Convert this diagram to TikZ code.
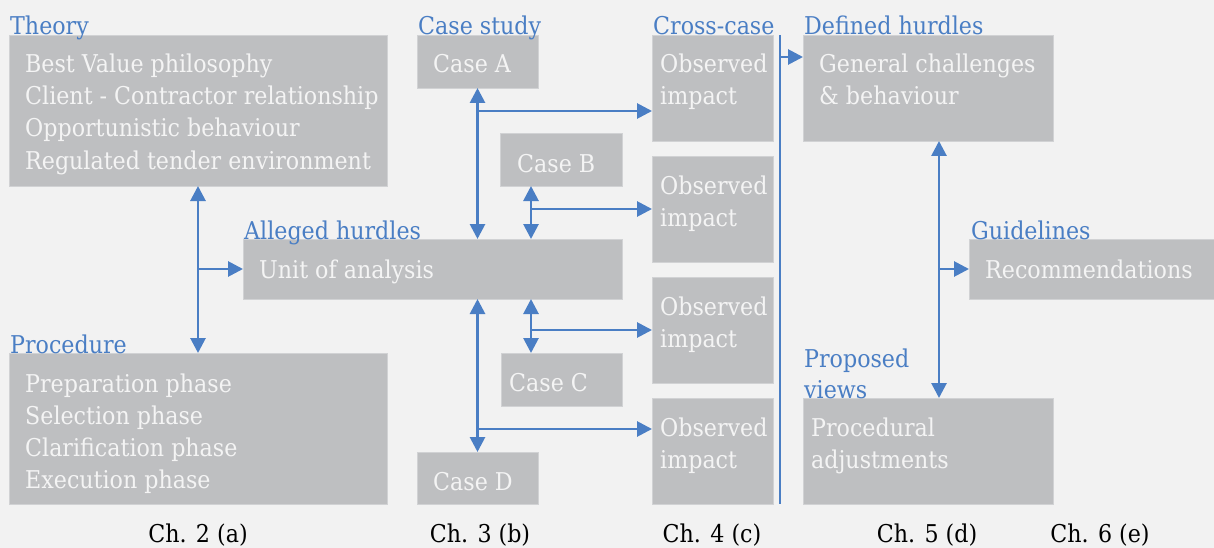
\documentclass[tikz,border=0pt]{standalone}
\usepackage{fontspec}
\setmainfont{DejaVu Serif}[FakeStretch=0.905]
\usetikzlibrary{arrows.meta}
\definecolor{bgc}{HTML}{F2F2F2}
\definecolor{boxc}{HTML}{BEBFC1}
\definecolor{bluec}{HTML}{4A7EC4}
\definecolor{boxtextc}{HTML}{F4F4F4}
\newcommand\diagfont{\fontsize{24.5}{28}\selectfont}
\begin{document}
\begin{tikzpicture}[x=1pt,y=-1pt,
  box/.style={fill=boxc, draw=boxc!70!white, line width=0.8pt, anchor=north west,
    inner sep=0pt, outer sep=0pt},
  intext/.style={text=boxtextc, anchor=base west, inner sep=0pt, font=\diagfont},
  title/.style={text=bluec, anchor=base west, inner sep=0pt, font=\diagfont},
  chap/.style={text=black, anchor=base, inner sep=0pt, font=\diagfont},
  conn/.style={draw=bluec, line width=2.8pt, -{Triangle[length=15pt,width=15pt]}},
  dconn/.style={draw=bluec, line width=2.8pt, {Triangle[length=15pt,width=15pt]}-{Triangle[length=15pt,width=15pt]}},
  plain/.style={draw=bluec, line width=2.8pt}]

% canvas
\fill[bgc] (0,0) rectangle (1214,548);
\useasboundingbox (0,0) rectangle (1214,548);

% boxes
\node[box, minimum width=378pt, minimum height=151pt] (theory) at (9,35) {};
\node[box, minimum width=378pt, minimum height=151pt] (proc) at (9,353) {};
\node[box, minimum width=379pt, minimum height=60pt] (unit) at (243,239) {};
\node[box, minimum width=121pt, minimum height=53pt] (caseA) at (417,35) {};
\node[box, minimum width=122pt, minimum height=53pt] (caseB) at (500,133) {};
\node[box, minimum width=121pt, minimum height=53pt] (caseC) at (501,353) {};
\node[box, minimum width=121pt, minimum height=52pt] (caseD) at (417,452) {};
\node[box, minimum width=121pt, minimum height=106pt] (obs1) at (652,35) {};
\node[box, minimum width=121pt, minimum height=106pt] (obs2) at (652,156) {};
\node[box, minimum width=121pt, minimum height=106pt] (obs3) at (652,277) {};
\node[box, minimum width=121pt, minimum height=106pt] (obs4) at (652,398) {};
\node[box, minimum width=250pt, minimum height=106pt] (defined) at (803,35) {};
\node[box, minimum width=246pt, minimum height=60pt] (recom) at (969,239) {};
\node[box, minimum width=250pt, minimum height=106pt] (padj) at (803,398) {};

% box contents
\foreach \t [count=\i] in {Best Value philosophy, Client - Contractor relationship,
    Opportunistic behaviour, Regulated tender environment}
  \node[intext] (th\i) at (25,{73+32*(\i-1)}) {\t};
\foreach \t [count=\i] in {Preparation phase, Selection phase,
    Clarification phase, Execution phase}
  \node[intext] (pr\i) at (25,{392+32*(\i-1)}) {\t};
\node[intext] (unitt) at (259,278) {Unit of analysis};
\node[intext] (caseAt) at (433,73) {Case A};
\node[intext] (caseBt) at (517,172) {Case B};
\node[intext] (caseCt) at (509,391) {Case C};
\node[intext] (caseDt) at (433,490) {Case D};
\foreach \k/\y in {1/73, 2/194, 3/315, 4/436} {
  \node[intext] (obs\k a) at (660,\y) {Observed};
  \node[intext] (obs\k b) at (660,{\y+32}) {impact};
}
\node[intext] (deft1) at (819,73) {General challenges};
\node[intext] (deft2) at (819,105) {\& behaviour};
\node[intext] (recomt) at (985,278) {Recommendations};
\node[intext] (padjt1) at (811,436) {Procedural};
\node[intext] (padjt2) at (811,468) {adjustments};

% headings
\node[title] (lTheory) at (10,35) {Theory};
\node[title] (lCase) at (418,35) {Case study};
\node[title] (lCross) at (653,35) {Cross-case};
\node[title] (lDef) at (804,35) {Defined hurdles};
\node[title] (lAll) at (244,239) {Alleged hurdles};
\node[title] (lGuide) at (971,239) {Guidelines};
\node[title] (lProc) at (10,353) {Procedure};
\node[title] (lProp1) at (804,367) {Proposed};
\node[title] (lProp2) at (804,398) {views};

% chapter labels
\node[chap] (ch2) at (198,542) {Ch. 2 (a)};
\node[chap] (ch3) at (480,542) {Ch. 3 (b)};
\node[chap] (ch4) at (712,542) {Ch. 4 (c)};
\node[chap] (ch5) at (927,542) {Ch. 5 (d)};
\node[chap] (ch6) at (1100,542) {Ch. 6 (e)};

% junction points
\coordinate (jT) at (198,269);
\coordinate (jA) at (478,111);
\coordinate (jB) at (531,209);
\coordinate (jC) at (531,330);
\coordinate (jD) at (478,429);
\coordinate (sepTop) at (780,35);
\coordinate (sepBot) at (780,504);
\coordinate (jS) at (780,57);
\coordinate (jG) at (939,269);

% theory / procedure to unit of analysis
\draw[dconn] (theory.south) -- (proc.north);
\draw[conn] (jT) -- (jT -| unit.west);

% cases to unit of analysis and to observed impacts
\draw[dconn] (caseA.south) -- (caseA.south |- unit.north);
\draw[conn] (jA) -- (jA -| obs1.west);
\draw[dconn] (jB |- caseB.south) -- (jB |- unit.north);
\draw[conn] (jB) -- (jB -| obs2.west);
\draw[dconn] (jC |- unit.south) -- (jC |- caseC.north);
\draw[conn] (jC) -- (jC -| obs3.west);
\draw[dconn] (caseD.north |- unit.south) -- (caseD.north);
\draw[conn] (jD) -- (jD -| obs4.west);

% cross-case separator and defined hurdles
\draw[plain] (sepTop) -- (sepBot);
\draw[conn] (jS) -- (jS -| defined.west);
\draw[dconn] (jG |- defined.south) -- (jG |- padj.north);
\draw[conn] (jG) -- (jG -| recom.west);
\end{tikzpicture}
\end{document}
